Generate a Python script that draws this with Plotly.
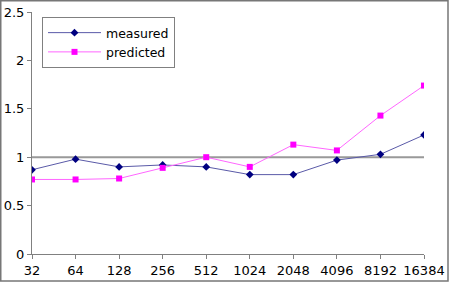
import plotly.graph_objects as go

categories = ["32", "64", "128", "256", "512", "1024", "2048", "4096", "8192", "16384"]
measured = [0.87, 0.98, 0.90, 0.92, 0.90, 0.82, 0.82, 0.97, 1.03, 1.23]
predicted = [0.77, 0.77, 0.78, 0.89, 1.00, 0.90, 1.13, 1.07, 1.43, 1.74]
reference = [1, 1, 1, 1, 1, 1, 1, 1, 1, 1]

W, H = 449, 282
ml, mr, mt, mb = 32, 25, 12, 28
pw, ph = W - ml - mr, H - mt - mb

fig = go.Figure()
fig.add_trace(go.Scatter(x=categories, y=reference, mode="lines",
                         line=dict(color="#999999", width=2), showlegend=False,
                         hoverinfo="skip"))
fig.add_trace(go.Scatter(x=categories, y=measured, mode="lines+markers", name="measured",
                         line=dict(color="#5a5aa8", width=1),
                         marker=dict(symbol="diamond", size=6, color="#000080")))
fig.add_trace(go.Scatter(x=categories, y=predicted, mode="lines+markers", name="predicted",
                         line=dict(color="#ff66ff", width=1),
                         marker=dict(symbol="square", size=6, color="#ff00ff")))

def px_x(p):
    return (p - ml) / pw

def px_y(p):
    return (mt + ph - p) / ph

fig.update_layout(
    width=W, height=H,
    margin=dict(l=ml, r=mr, t=mt, b=mb, autoexpand=False),
    paper_bgcolor="white", plot_bgcolor="white",
    font=dict(family="DejaVu Sans", size=13, color="black"),
    xaxis=dict(type="category", range=[0, 9], showgrid=False, zeroline=False,
               showline=True, linecolor="#808080", linewidth=1, automargin=False,
               ticks="outside", ticklen=4, tickcolor="#808080"),
    yaxis=dict(range=[0, 2.5], dtick=0.5, showgrid=False, zeroline=False,
               showline=True, linecolor="#808080", linewidth=1, automargin=False,
               ticks="outside", ticklen=4, tickcolor="#808080"),
    legend=dict(x=px_x(42), y=px_y(17), xanchor="left", yanchor="top",
                bordercolor="#808080", borderwidth=1, bgcolor="white",
                font=dict(size=12.5), tracegroupgap=0, itemwidth=53),
    shapes=[dict(type="rect", xref="paper", yref="paper",
                 x0=px_x(0.75), x1=px_x(448), y0=px_y(281), y1=px_y(0.75),
                 line=dict(color="#777777", width=1.5))],
)

fig.write_html("out.html", config={"displayModeBar": False},
               post_script="document.body.style.margin='0';document.body.style.padding='0';")
